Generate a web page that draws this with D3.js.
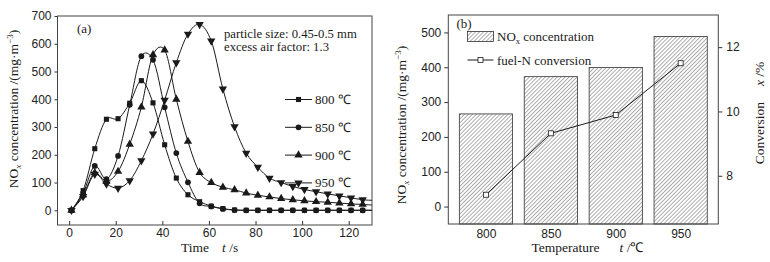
<!DOCTYPE html>
<html>
<head>
<meta charset="utf-8">
<script src="https://cdn.jsdelivr.net/npm/d3@7"></script>
<style>
  body { margin: 0; background: #fff; }
  svg { display: block; font-family: "Liberation Serif", "Times New Roman", serif; }
  .axis text { font-size: 12px; fill: #222; }
  .axis line { stroke: #333; }
</style>
</head>
<body>
<svg id="chart" width="770" height="262"></svg>
<script>
// ---- panel (a) data: NOx release curves ----
var times = [1, 6, 11, 16, 21, 26, 31, 36, 41, 46, 51, 56, 61, 66, 71, 76, 81, 86, 91, 96, 101, 106, 111, 116, 121, 126];
var no800 = [0, 71, 222, 328, 330, 386, 467, 387, 236, 116, 56, 31, 15, 6, 1, 0, 0, 0, 0, 0, 0, 0, 0, 0, 0, 0];
var no850 = [0, 62, 160, 112, 196, 380, 555, 542, 371, 206, 101, 25, 14, 5, 1, 0, 0, 0, 0, 0, 0, 0, 0, 0, 0, 0];
var no900 = [0, 55, 135, 104, 140, 238, 372, 560, 577, 400, 248, 136, 100, 83, 74, 62, 54, 48, 42, 38, 34, 31, 29, 26, 23, 21];
var no950 = [0, 50, 130, 95, 80, 107, 179, 275, 397, 532, 635, 670, 610, 437, 301, 206, 155, 116, 100, 86, 75, 67, 59, 52, 45, 38];
var endTime = 130;
var endValues = [0, 0, 19, 36];
var seriesNames = ["800 ℃", "850 ℃", "900 ℃", "950 ℃"];
var timeTicks = [0, 20, 40, 60, 80, 100, 120];
var concTicksA = [0, 100, 200, 300, 400, 500, 600, 700];

// ---- panel (b) data ----
var temps = ["800", "850", "900", "950"];
var noxConc = [266, 373, 399, 488];
var fuelNConv = [7.41, 9.32, 9.89, 11.5];
var concTicksB = [0, 100, 200, 300, 400, 500];
var convTicks = [8, 10, 12];

var svg = d3.select("#chart");
var ink = "#1a1a1a";

// hatch pattern for bars
var defs = svg.append("defs");
defs.append("pattern")
  .attr("id", "hatch")
  .attr("patternUnits", "userSpaceOnUse")
  .attr("width", 2.8).attr("height", 2.8)
  .attr("patternTransform", "rotate(45)")
  .append("line")
  .attr("x1", 0).attr("y1", 0).attr("x2", 0).attr("y2", 2.8)
  .attr("stroke", "#333").attr("stroke-width", 0.8);

// rotated axis title with NOx subscript and m-3 superscript
function concTitle(g, x, y) {
  var t = g.append("text")
    .attr("transform", "translate(" + x + "," + y + ") rotate(-90)")
    .attr("text-anchor", "middle")
    .style("font-size", "13.5px")
    .attr("fill", ink);
  t.append("tspan").text("NO");
  t.append("tspan").attr("dy", 3).style("font-size", "9px").style("font-style", "italic").text("x");
  t.append("tspan").attr("dy", -3).text(" concentration /(mg·m");
  t.append("tspan").attr("dy", -5).style("font-size", "9px").text("−3");
  t.append("tspan").attr("dy", 5).text(")");
}

// ================= panel (a) =================
var A = { left: 57.5, right: 372, top: 16, bottom: 225 };
var xA = d3.scaleLinear().domain([-5, 130]).range([A.left, A.right]);
var yA = d3.scaleLinear().domain([-53, 700]).range([A.bottom, A.top]);
var gA = svg.append("g");

gA.append("g").attr("class", "axis")
  .attr("transform", "translate(" + A.left + ",0)")
  .call(d3.axisLeft(yA).tickValues(concTicksA).tickSize(3).tickPadding(3))
  .call(g => g.select(".domain").remove());

gA.append("g").attr("class", "axis")
  .attr("transform", "translate(0," + A.bottom + ")")
  .call(d3.axisBottom(xA).tickValues(timeTicks).tickSize(-4).tickPadding(3))
  .call(g => g.select(".domain").remove());

gA.append("rect")
  .attr("x", A.left).attr("y", A.top)
  .attr("width", A.right - A.left).attr("height", A.bottom - A.top)
  .attr("fill", "none").attr("stroke", "#444").attr("stroke-width", 1);

var symbolTypes = [d3.symbolSquare, d3.symbolCircle, d3.symbolTriangle, d3.symbolTriangle];
var symbolSizes = [26, 26, 30, 30];
var symbolRot = [0, 0, 0, 180];
var allSeries = [no800, no850, no900, no950];

var line = d3.line()
  .x(d => xA(d.t))
  .y(d => yA(d.v))
  .curve(d3.curveCatmullRom.alpha(0.1));

allSeries.forEach(function (vals, i) {
  var pts = times.map((t, k) => ({ t: t, v: vals[k] }));
  var path = pts.concat([{ t: endTime, v: endValues[i] }]);
  gA.append("path")
    .datum(path)
    .attr("d", line)
    .attr("fill", "none")
    .attr("stroke", ink)
    .attr("stroke-width", 1);
  gA.selectAll(".m" + i)
    .data(pts)
    .enter().append("path")
    .attr("class", "m" + i)
    .attr("transform", d => "translate(" + xA(d.t) + "," + yA(d.v) + ") rotate(" + symbolRot[i] + ")")
    .attr("d", d3.symbol().type(symbolTypes[i]).size(symbolSizes[i]))
    .attr("fill", ink);
});

// legend (a)
var legA = gA.append("g");
seriesNames.forEach(function (name, i) {
  var ly = 99.5 + i * 27.8;
  legA.append("line")
    .attr("x1", 285).attr("x2", 312).attr("y1", ly).attr("y2", ly)
    .attr("stroke", ink);
  legA.append("path")
    .attr("transform", "translate(298.5," + ly + ") rotate(" + symbolRot[i] + ")")
    .attr("d", d3.symbol().type(symbolTypes[i]).size(symbolSizes[i]))
    .attr("fill", ink);
  legA.append("text")
    .attr("x", 315).attr("y", ly + 4.5)
    .style("font-size", "13px").attr("fill", ink)
    .text(name);
});

gA.append("text").attr("x", 77).attr("y", 32.5)
  .style("font-size", "13px").attr("fill", ink).text("(a)");
gA.append("text").attr("x", 224).attr("y", 37.5)
  .style("font-size", "12.7px").attr("fill", ink).text("particle size: 0.45-0.5 mm");
gA.append("text").attr("x", 224).attr("y", 51)
  .style("font-size", "12.7px").attr("fill", ink).text("excess air factor: 1.3");

var xtA = gA.append("text").attr("x", 181).attr("y", 252)
  .style("font-size", "13.5px").attr("fill", ink);
xtA.append("tspan").text("Time");
xtA.append("tspan").attr("dx", 13).style("font-style", "italic").text("t");
xtA.append("tspan").text(" /s");

concTitle(gA, 18, 109);

// ================= panel (b) =================
var B = { left: 448.3, right: 718.3, top: 15, bottom: 224 };
var xB = d3.scalePoint().domain(temps).range([B.left, B.right]).padding(0.58);
var yB = d3.scaleLinear().domain([-50, 550]).range([B.bottom, B.top]);
var yR = d3.scaleLinear().domain([6.5, 13]).range([B.bottom, B.top]);
var barW = xB.step() * 0.82;
var gB = svg.append("g");

gB.selectAll(".bar")
  .data(temps)
  .enter().append("rect")
  .attr("class", "bar")
  .attr("x", d => xB(d) - barW / 2)
  .attr("width", barW)
  .attr("y", (d, i) => yB(noxConc[i]))
  .attr("height", (d, i) => yB(-50) - yB(noxConc[i]))
  .attr("fill", "url(#hatch)")
  .attr("stroke", "#333").attr("stroke-width", 0.8);

gB.append("g").attr("class", "axis")
  .attr("transform", "translate(" + B.left + ",0)")
  .call(d3.axisLeft(yB).tickValues(concTicksB).tickSize(4).tickPadding(3))
  .call(g => g.select(".domain").remove());

gB.append("g").attr("class", "axis")
  .attr("transform", "translate(" + B.right + ",0)")
  .call(d3.axisRight(yR).tickValues(convTicks).tickFormat(d3.format("d")).tickSize(4).tickPadding(4))
  .call(g => g.select(".domain").remove());

gB.append("g").attr("class", "axis")
  .attr("transform", "translate(0," + B.bottom + ")")
  .call(d3.axisBottom(xB).tickSize(0).tickPadding(5))
  .call(g => g.select(".domain").remove());

gB.append("rect")
  .attr("x", B.left).attr("y", B.top)
  .attr("width", B.right - B.left).attr("height", B.bottom - B.top)
  .attr("fill", "none").attr("stroke", "#444").attr("stroke-width", 1);

var convPts = temps.map((t, i) => ({ t: t, v: fuelNConv[i] }));
gB.append("path")
  .datum(convPts)
  .attr("d", d3.line().x(d => xB(d.t)).y(d => yR(d.v)))
  .attr("fill", "none").attr("stroke", ink).attr("stroke-width", 1);
gB.selectAll(".cm")
  .data(convPts)
  .enter().append("rect")
  .attr("class", "cm")
  .attr("x", d => xB(d.t) - 2.5).attr("y", d => yR(d.v) - 2.5)
  .attr("width", 5).attr("height", 5)
  .attr("fill", "#fff").attr("stroke", ink).attr("stroke-width", 0.8);

// legend (b)
gB.append("rect")
  .attr("x", 467.5).attr("y", 31.5).attr("width", 26).attr("height", 10)
  .attr("fill", "url(#hatch)").attr("stroke", "#333").attr("stroke-width", 0.8);
var lt = gB.append("text").attr("x", 497).attr("y", 41)
  .style("font-size", "13px").attr("fill", ink);
lt.append("tspan").text("NO");
lt.append("tspan").attr("dy", 3).style("font-size", "8.5px").text("x");
lt.append("tspan").attr("dy", -3).text(" concentration");
gB.append("line")
  .attr("x1", 467.5).attr("x2", 493.5).attr("y1", 60).attr("y2", 60)
  .attr("stroke", ink);
gB.append("rect")
  .attr("x", 478).attr("y", 57.5).attr("width", 5).attr("height", 5)
  .attr("fill", "#fff").attr("stroke", ink).attr("stroke-width", 0.8);
gB.append("text").attr("x", 497).attr("y", 64.5)
  .style("font-size", "13px").attr("fill", ink).text("fuel-N conversion");

gB.append("text").attr("x", 456.5).attr("y", 28)
  .style("font-size", "13px").attr("fill", ink).text("(b)");

var xtB = gB.append("text").attr("x", 531.5).attr("y", 252)
  .style("font-size", "13.5px").attr("fill", ink);
xtB.append("tspan").text("Temperature");
xtB.append("tspan").attr("dx", 20).style("font-style", "italic").text("t");
xtB.append("tspan").text(" /℃");

concTitle(gB, 406, 125);

var rt = gB.append("text")
  .attr("transform", "translate(764,113) rotate(-90)")
  .attr("text-anchor", "middle")
  .style("font-size", "13.5px").attr("fill", ink);
rt.append("tspan").text("Conversion");
rt.append("tspan").attr("dx", 16).style("font-style", "italic").text("x");
rt.append("tspan").text(" /%");
</script>
</body>
</html>
